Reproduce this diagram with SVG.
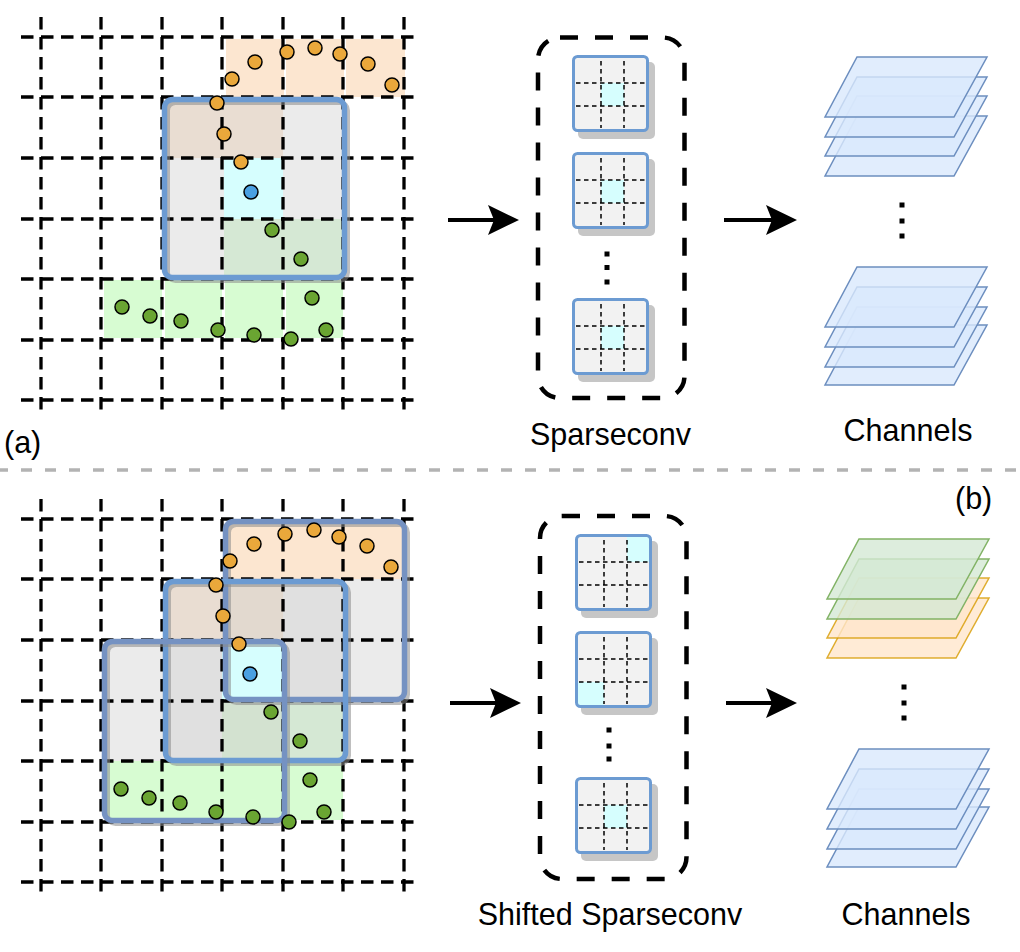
<svg xmlns="http://www.w3.org/2000/svg" xmlns:xlink="http://www.w3.org/1999/xlink" width="1020" height="952" viewBox="0 0 1020 952">
<style>
.grid{fill:none;stroke:#000;stroke-width:3.3;stroke-dasharray:12.5 7.5}
.sep{fill:none;stroke:#b3b3b3;stroke-width:3.5;stroke-dasharray:11 13}
.box{fill:none;stroke:#000;stroke-width:4.5;stroke-dasharray:18 17}
.kb{fill:none;stroke:#6c9bd2;stroke-width:5.5}
.kb2{fill:none;stroke:#7592c2;stroke-width:5.5}
.ks{fill:none;stroke:#8a8a8a;stroke-opacity:.55;stroke-width:5}
.o{fill:#eaa83b;stroke:#000;stroke-width:1.5}
.g{fill:#6aa532;stroke:#000;stroke-width:1.5}
.b{fill:#4aa0e2;stroke:#000;stroke-width:1.5}
.cy{fill:#d6fefe}
.pb{fill:#dae8fc;fill-opacity:.8;stroke:#6c8ebf;stroke-width:1.5}
.pg{fill:#d5e8d4;fill-opacity:.8;stroke:#82b366;stroke-width:1.5}
.po{fill:#ffe6cc;fill-opacity:.8;stroke:#d79b00;stroke-width:1.5;stroke-opacity:.8}
.arr{fill:none;stroke:#000;stroke-width:4}
.t{font-family:"Liberation Sans",Arial,Helvetica,sans-serif;font-size:30.5px;fill:#000}
.dot{fill:#000}
</style>
<defs>
<marker id="ah" markerUnits="userSpaceOnUse" markerWidth="31" markerHeight="30" viewBox="0 0 31 30" refX="6" refY="15" orient="auto">
<path d="M0,0 L31,15 L0,30 L6,15 Z" fill="#000"/>
</marker>
<g id="kbg">
<rect x="6" y="7" width="77" height="77" rx="5" fill="#c6c6c6"/>
<rect x="1.5" y="1.5" width="74" height="74" rx="4" fill="#f2f2f2"/>
</g>
<g id="kfg">
<path d="M29,6V73M52,6V73M4,28H74M4,51H74" fill="none" stroke="#000" stroke-width="1.5" stroke-dasharray="4.5 3.5"/>
<rect x="1.5" y="1.5" width="74" height="74" rx="4" fill="none" stroke="#6c9bd2" stroke-width="3"/>
</g>
<polygon id="plane" points="32,0 162,0 129,60 0,60"/>
</defs>

<!-- (a) grid panel -->
<g id="panel-a-cells">
<rect x="226" y="39" width="58" height="58" fill="#fce6d0"/>
<rect x="286" y="39" width="58" height="58" fill="#fce6d0"/>
<rect x="346" y="39" width="59" height="58" fill="#fce6d0"/>
<rect x="104" y="280" width="58" height="58" fill="#d7fcd2"/>
<rect x="165" y="280" width="57" height="58" fill="#d7fcd2"/>
<rect x="225" y="280" width="58" height="58" fill="#d7fcd2"/>
<rect x="286" y="280" width="57" height="58" fill="#d7fcd2"/>
</g>
<g id="kernel-a-fill">
<rect x="164.5" y="99.5" width="180" height="178" rx="8" fill="#ebebeb"/>
<rect x="166" y="101" width="117" height="57" fill="#e9ddd2"/>
<rect x="224" y="158" width="59" height="61" class="cy"/>
<rect x="224" y="219" width="119" height="57" fill="#d5e8d4"/>
</g>
<g id="grid-a">
<path class="grid" d="M41,17V415M101,17V415M162,17V415M222,17V415M283,17V415M343,17V415M404,17V415M21,37H420M21,97H420M21,158H420M21,219H420M21,279H420M21,340H420M21,400H420"/>
</g>
<g id="kernel-a">
<rect class="ks" x="167.5" y="102.5" width="180" height="178" rx="8"/>
<rect class="kb" x="164.5" y="99.5" width="180" height="178" rx="8"/>
</g>
<g id="points-a">
<circle class="o" cx="232" cy="79" r="7"/>
<circle class="o" cx="255" cy="62" r="7"/>
<circle class="o" cx="287" cy="52" r="7"/>
<circle class="o" cx="315" cy="48" r="7"/>
<circle class="o" cx="340" cy="54" r="7"/>
<circle class="o" cx="368" cy="64" r="7"/>
<circle class="o" cx="392" cy="85" r="7"/>
<circle class="o" cx="217" cy="103" r="7"/>
<circle class="o" cx="224" cy="134" r="7"/>
<circle class="o" cx="241" cy="162" r="7"/>
<circle class="b" cx="251" cy="192" r="7"/>
<circle class="g" cx="272" cy="230" r="7"/>
<circle class="g" cx="301" cy="259" r="7"/>
<circle class="g" cx="312" cy="298" r="7"/>
<circle class="g" cx="326" cy="330" r="7"/>
<circle class="g" cx="291" cy="339" r="7"/>
<circle class="g" cx="254" cy="335" r="7"/>
<circle class="g" cx="218" cy="330" r="7"/>
<circle class="g" cx="181" cy="321" r="7"/>
<circle class="g" cx="150" cy="316" r="7"/>
<circle class="g" cx="122" cy="307" r="7"/>
</g>
<text class="t" x="4" y="453">(a)</text>

<!-- (a) sparseconv stack -->
<g id="sparseconv-a">
<rect class="box" x="538" y="37.5" width="146.5" height="360.5" rx="22"/>
<g id="kernel-a1" transform="translate(572,55)"><use xlink:href="#kbg"/><rect class="cy" x="29" y="28" width="23" height="23"/><use xlink:href="#kfg"/></g>
<g id="kernel-a2" transform="translate(572,152)"><use xlink:href="#kbg"/><rect class="cy" x="29" y="28" width="23" height="23"/><use xlink:href="#kfg"/></g>
<g id="kernel-a3" transform="translate(572,298)"><use xlink:href="#kbg"/><rect class="cy" x="29" y="28" width="23" height="23"/><use xlink:href="#kfg"/></g>
<rect class="dot" x="604.5" y="251.5" width="5" height="5"/>
<rect class="dot" x="604.5" y="265" width="5" height="5"/>
<rect class="dot" x="604.5" y="279.5" width="5" height="5"/>
<text class="t" x="610.5" y="445" text-anchor="middle">Sparseconv</text>
</g>

<!-- (a) channels -->
<g id="channels-a">
<use xlink:href="#plane" class="pb" x="825" y="116"/>
<use xlink:href="#plane" class="pb" x="825" y="96"/>
<use xlink:href="#plane" class="pb" x="825" y="77"/>
<use xlink:href="#plane" class="pb" x="825" y="57"/>
<rect class="dot" x="899.5" y="202.5" width="5" height="5"/>
<rect class="dot" x="899.5" y="218.5" width="5" height="5"/>
<rect class="dot" x="899.5" y="233.5" width="5" height="5"/>
<use xlink:href="#plane" class="pb" x="825" y="325"/>
<use xlink:href="#plane" class="pb" x="825" y="307"/>
<use xlink:href="#plane" class="pb" x="825" y="287"/>
<use xlink:href="#plane" class="pb" x="825" y="267"/>
<text class="t" x="908" y="441" text-anchor="middle">Channels</text>
</g>

<line id="separator" class="sep" x1="-3" y1="470" x2="1020" y2="470"/>

<!-- (b) grid panel -->
<g id="panel-b-cells">
<rect x="225.5" y="521.5" width="179" height="178" rx="8" fill="#ebebeb"/>
<rect x="165.5" y="581.5" width="180" height="179" rx="8" fill="#ebebeb"/>
<rect x="104.5" y="641.5" width="180" height="179" rx="8" fill="#ebebeb"/>
<rect x="225.5" y="581.5" width="120" height="118" fill="#e0e0e0"/>
<rect x="165.5" y="641.5" width="119" height="119" fill="#e0e0e0"/>
<rect x="227" y="523" width="176" height="56" fill="#fce6d0"/>
<rect x="167" y="583" width="55" height="57" fill="#e9ddd2"/>
<rect x="222" y="579" width="61" height="61" fill="#e2d9cf"/>
<rect x="222" y="640" width="61" height="61" class="cy"/>
<rect x="222" y="701" width="61" height="60" fill="#d3e2d0"/>
<rect x="283" y="701" width="60" height="58" fill="#d5e8d4"/>
<rect x="106" y="761" width="177" height="58" fill="#d7fcd2"/>
<rect x="286" y="761" width="57" height="59" fill="#d7fcd2"/>
</g>
<g id="grid-b">
<path class="grid" d="M41,499V898M101,499V898M162,499V898M222,499V898M283,499V898M343,499V898M404,499V898M21,519H420M21,579H420M21,640H420M21,701H420M21,761H420M21,822H420M21,882H420"/>
</g>
<g id="kernel-b1">
<rect class="ks" x="228.5" y="524.5" width="179" height="178" rx="8"/>
<rect class="kb2" x="225.5" y="521.5" width="179" height="178" rx="8"/>
</g>
<g id="kernel-b2">
<rect class="ks" x="168.5" y="584.5" width="180" height="179" rx="8"/>
<rect class="kb" x="165.5" y="581.5" width="180" height="179" rx="8"/>
</g>
<g id="kernel-b3">
<rect class="ks" x="107.5" y="644.5" width="180" height="179" rx="8"/>
<rect class="kb2" x="104.5" y="641.5" width="180" height="179" rx="8"/>
</g>
<g id="points-b">
<circle class="o" cx="230" cy="561" r="7"/>
<circle class="o" cx="254" cy="544" r="7"/>
<circle class="o" cx="285" cy="534" r="7"/>
<circle class="o" cx="314" cy="530" r="7"/>
<circle class="o" cx="339" cy="537" r="7"/>
<circle class="o" cx="367" cy="546" r="7"/>
<circle class="o" cx="391" cy="567" r="7"/>
<circle class="o" cx="216" cy="585" r="7"/>
<circle class="o" cx="223" cy="616" r="7"/>
<circle class="o" cx="239" cy="644" r="7"/>
<circle class="b" cx="250" cy="674" r="7"/>
<circle class="g" cx="271" cy="712" r="7"/>
<circle class="g" cx="300" cy="741" r="7"/>
<circle class="g" cx="310" cy="780" r="7"/>
<circle class="g" cx="324" cy="812" r="7"/>
<circle class="g" cx="289" cy="822" r="7"/>
<circle class="g" cx="253" cy="817" r="7"/>
<circle class="g" cx="216" cy="812" r="7"/>
<circle class="g" cx="180" cy="803" r="7"/>
<circle class="g" cx="149" cy="798" r="7"/>
<circle class="g" cx="121" cy="789" r="7"/>
</g>
<text class="t" x="955" y="509">(b)</text>

<!-- (b) shifted sparseconv stack -->
<g id="sparseconv-b">
<rect class="box" x="540" y="516" width="146.5" height="363" rx="22"/>
<g id="kernel-s1" transform="translate(575,534)"><use xlink:href="#kbg"/><rect class="cy" x="52" y="3" width="22" height="25"/><use xlink:href="#kfg"/></g>
<g id="kernel-s2" transform="translate(575,631)"><use xlink:href="#kbg"/><rect class="cy" x="3" y="51" width="26" height="23"/><use xlink:href="#kfg"/></g>
<g id="kernel-s3" transform="translate(575,777)"><use xlink:href="#kbg"/><rect class="cy" x="29" y="28" width="23" height="23"/><use xlink:href="#kfg"/></g>
<rect class="dot" x="606.5" y="727.5" width="5" height="5"/>
<rect class="dot" x="606.5" y="743.5" width="5" height="5"/>
<rect class="dot" x="606.5" y="756.5" width="5" height="5"/>
<text class="t" x="610" y="925" text-anchor="middle">Shifted Sparseconv</text>
</g>

<!-- (b) channels -->
<g id="channels-b">
<use xlink:href="#plane" class="po" x="827" y="598"/>
<use xlink:href="#plane" class="po" x="827" y="578"/>
<use xlink:href="#plane" class="pg" x="827" y="559"/>
<use xlink:href="#plane" class="pg" x="827" y="539"/>
<rect class="dot" x="901.5" y="684.5" width="5" height="5"/>
<rect class="dot" x="901.5" y="700.5" width="5" height="5"/>
<rect class="dot" x="901.5" y="715.5" width="5" height="5"/>
<use xlink:href="#plane" class="pb" x="827" y="807"/>
<use xlink:href="#plane" class="pb" x="827" y="789"/>
<use xlink:href="#plane" class="pb" x="827" y="769"/>
<use xlink:href="#plane" class="pb" x="827" y="749"/>
<text class="t" x="906" y="925" text-anchor="middle">Channels</text>
</g>

<g id="connectors">
<line class="arr" x1="448" y1="220" x2="494" y2="220" marker-end="url(#ah)"/>
<line class="arr" x1="724" y1="220" x2="772" y2="220" marker-end="url(#ah)"/>
<line class="arr" x1="450" y1="703" x2="496" y2="703" marker-end="url(#ah)"/>
<line class="arr" x1="726" y1="703" x2="772" y2="703" marker-end="url(#ah)"/>
</g>
</svg>
